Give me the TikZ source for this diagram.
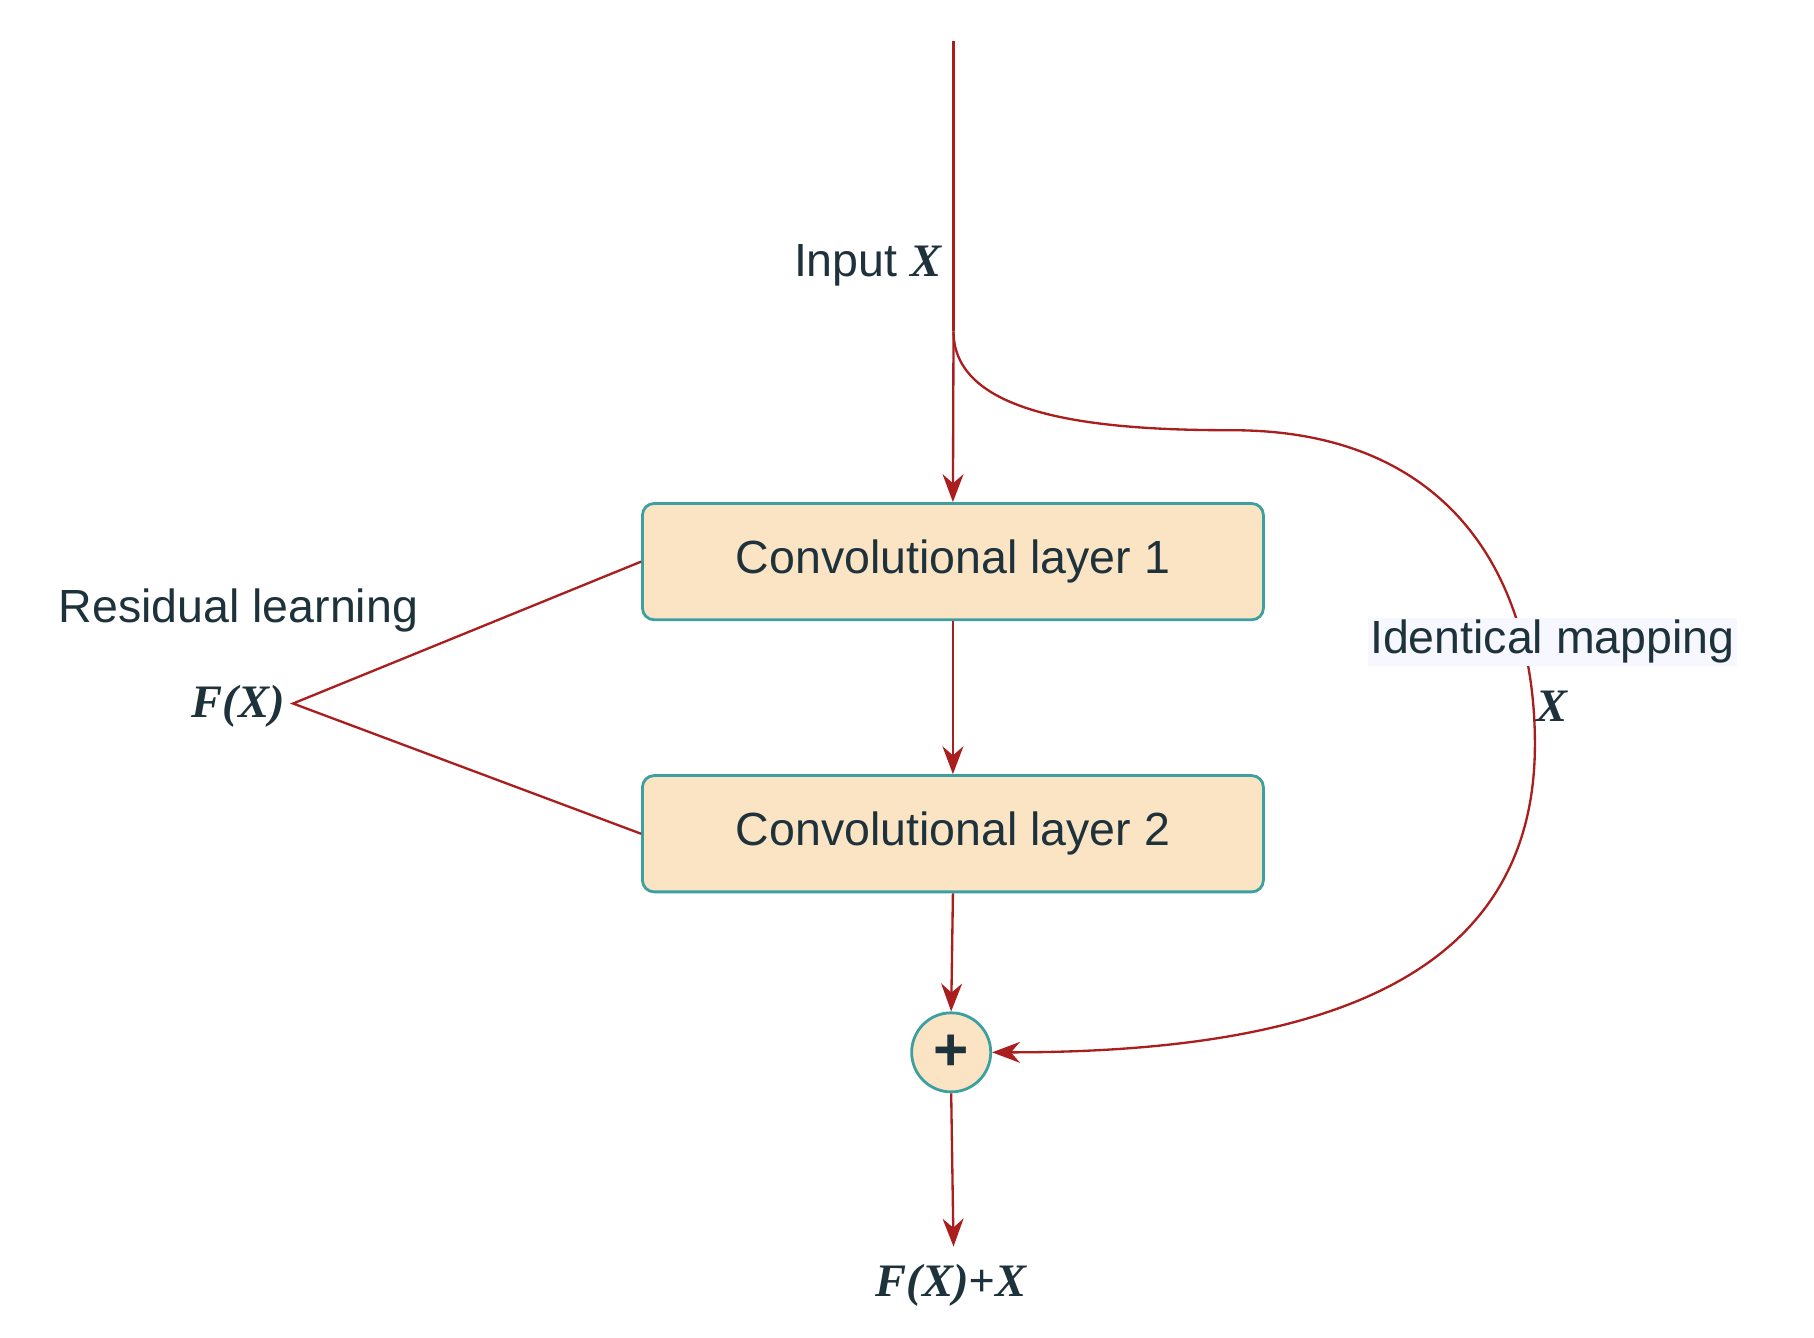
\documentclass[tikz,border=0pt]{standalone}
\usepackage{fontspec}
\setmainfont{Liberation Sans}
\newfontfamily\serifx{Liberation Serif}
\usetikzlibrary{arrows.meta}
\definecolor{darkred}{RGB}{170,30,30}
\definecolor{tealline}{RGB}{60,160,160}
\definecolor{boxfill}{RGB}{250,228,196}
\definecolor{txt}{RGB}{30,50,60}
\newcommand{\vx}[1]{{\serifx\bfseries\itshape #1}}
\begin{document}
\begin{tikzpicture}[x=0.5pt,y=-0.5pt,
  conv/.style={draw=tealline,line width=1.2pt,fill=boxfill,rounded corners=5pt,minimum width=267pt,minimum height=50pt,text=txt,font=\fontsize{20}{24}\selectfont},
  flow/.style={draw=darkred,line width=1pt,-{Stealth[length=12pt,width=9pt]}},
  lbl/.style={text=txt,font=\fontsize{20}{24}\selectfont,inner sep=1pt}]
\useasboundingbox (0,0) rectangle (1560,1150);

%Top of input line
\coordinate (top) at (820,35);
\coordinate (split) at (820,285);
% Boxes
\node[conv] (c1) at (819.5,483) {Convolutional layer 1};
\node[conv] (c2) at (819.5,717) {Convolutional layer 2};
% Sum
\node[circle,draw=tealline,fill=boxfill,line width=1.2pt,minimum size=34pt,inner sep=0pt,text=txt,font=\fontsize{26}{26}\selectfont\bfseries] (sum) at (818,905) {+};
\coordinate (out) at (820,1072);

% Text Node
\node[lbl,anchor=east] (inp) at (812,228) {Input \vx{X}};
\node[lbl] (res) at (205,525) {Residual learning};
\node[lbl] (fx) at (205,607) {\vx{F(X)}};
\coordinate (fxr) at (252,605);
\node[lbl] (outl) at (818,1105) {\vx{F(X)+X}};

% Connectors
\draw[darkred,line width=1pt] (top) -- (split);
\draw[flow] (split) -- (c1.north);
\draw[flow] (c1.south) -- (c2.north);
\draw[flow] (c2.south) -- (sum.north);
\draw[flow] (sum.south) -- (out);
\draw[darkred,line width=1pt] (c1.west) -- (fxr) -- (c2.west);
% Identity mapping
\draw[flow] (split) .. controls (820,360) and (950,370) .. (1060,370)
  .. controls (1250,370) and (1320,500) .. (1320,640)
  .. controls (1320,850) and (1120,905) .. (sum.east);
\node[lbl,fill=blue!3] (idm) at (1335,552) {Identical mapping};
\node[lbl] (idx) at (1335,607) {\vx{X}};
\end{tikzpicture}
\end{document}
